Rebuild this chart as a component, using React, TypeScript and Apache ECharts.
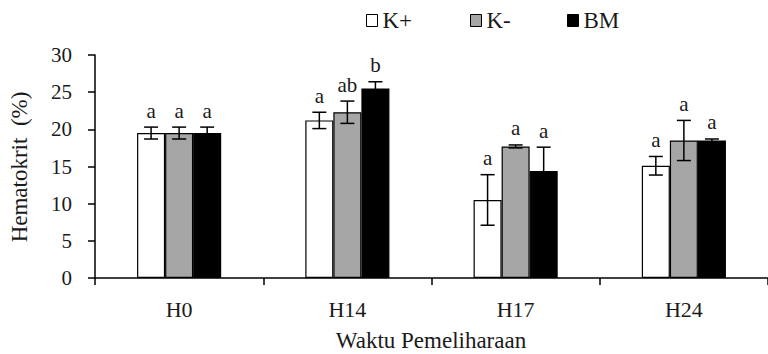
import React, { useEffect, useRef } from "react";
import * as echarts from "echarts";

const categories = ["H0", "H14", "H17", "H24"];
const seriesNames = ["K+", "K-", "BM"];
const kPlus = [19.5, 21.2, 10.5, 15.1];
const kMinus = [19.5, 22.3, 17.7, 18.5];
const bm = [19.5, 25.5, 14.4, 18.5];
const kPlusErr = [0.8, 1.1, 3.4, 1.25];
const kMinusErr = [0.8, 1.5, 0.2, 2.7];
const bmErr = [0.8, 0.9, 3.2, 0.2];
const kPlusLetters = ["a", "a", "a", "a"];
const kMinusLetters = ["a", "ab", "a", "a"];
const bmLetters = ["a", "b", "a", "a"];
const yTicks = { min: 0, max: 30, interval: 5 };

const FONT = "Liberation Serif";
const TEXT = "#1a1a1a";
const fills = ["#ffffff", "#a6a6a6", "#000000"];

export default function App() {
  const ref = useRef<HTMLDivElement>(null);
  useEffect(() => {
    if (!ref.current) return;
    const chart = echarts.init(ref.current, null, { renderer: "svg" });
    const values = [kPlus, kMinus, bm];
    const errs = [kPlusErr, kMinusErr, bmErr];
    const letters = [kPlusLetters, kMinusLetters, bmLetters];

    const barSeries = values.map((vals, s) => ({
      name: seriesNames[s],
      type: "bar",
      data: vals,
      barGap: "0%",
      barCategoryGap: "50%",
      itemStyle: { color: fills[s], borderColor: "#000", borderWidth: 1.2 },
      z: 2,
    }));

    const errSeries = values.map((vals, s) => ({
      name: "err" + s,
      type: "custom",
      z: 5,
      data: vals.map((v, i) => [i, v, errs[s][i]]),
      encode: { x: 0, y: 1 },
      renderItem: (params: any, api: any) => {
        const i = api.value(0);
        const v = api.value(1);
        const e = api.value(2);
        const band = api.size([1, 0])[0];
        const barW = (band * 0.5) / 3;
        const off = (s - 1) * barW;
        const top = api.coord([i, v + e]);
        const bot = api.coord([i, v - e]);
        const x = top[0] + off;
        const cap = 7;
        const lineStyle = { stroke: "#000", lineWidth: 1.5 };
        return {
          type: "group",
          children: [
            { type: "line", shape: { x1: x, y1: top[1], x2: x, y2: bot[1] }, style: lineStyle },
            { type: "line", shape: { x1: x - cap, y1: top[1], x2: x + cap, y2: top[1] }, style: lineStyle },
            { type: "line", shape: { x1: x - cap, y1: bot[1], x2: x + cap, y2: bot[1] }, style: lineStyle },
            {
              type: "text",
              style: {
                text: letters[s][params.dataIndex],
                x: x,
                y: top[1] - 6,
                textAlign: "center",
                textVerticalAlign: "bottom",
                fontSize: 21,
                fontFamily: FONT,
                fill: TEXT,
              },
            },
          ],
        };
      },
    }));

    const legendLefts = [366, 470, 567];
    const legends = seriesNames.map((n, s) => ({
      data: [{ name: n, itemStyle: { color: fills[s], borderColor: "#000", borderWidth: 1 } }],
      left: legendLefts[s],
      top: 9,
      padding: 0,
      icon: "rect",
      itemWidth: 11,
      itemHeight: 12,
      itemGap: 0,
      textStyle: { fontSize: 23, fontFamily: FONT, color: TEXT },
      selectedMode: false,
    }));

    chart.setOption({
      animation: false,
      textStyle: { fontFamily: FONT },
      legend: legends,
      grid: { left: 95, right: -11, top: 55, bottom: 76, containLabel: false },
      xAxis: {
        type: "category",
        data: categories,
        axisLine: { lineStyle: { color: "#000", width: 1.5 } },
        axisTick: { show: true, length: 7, lineStyle: { color: "#000", width: 1.5 } },
        axisLabel: { fontSize: 22, fontFamily: FONT, color: TEXT, margin: 20 },
      },
      yAxis: {
        type: "value",
        min: yTicks.min,
        max: yTicks.max,
        interval: yTicks.interval,
        splitLine: { show: false },
        axisLine: { show: true, lineStyle: { color: "#000", width: 1.5 } },
        axisTick: { show: true, length: 7, lineStyle: { color: "#000", width: 1.5 } },
        axisLabel: { fontSize: 21, fontFamily: FONT, color: TEXT, margin: 23 },
      },
      graphic: [
        {
          type: "text",
          x: 19,
          y: 167,
          rotation: Math.PI / 2,
          style: {
            text: "Hematokrit  (%)",
            textAlign: "center",
            textVerticalAlign: "middle",
            fontSize: 23,
            fontFamily: FONT,
            fill: TEXT,
          },
        },
        {
          type: "text",
          x: 431,
          y: 340,
          style: {
            text: "Waktu Pemeliharaan",
            textAlign: "center",
            textVerticalAlign: "middle",
            fontSize: 23,
            fontFamily: FONT,
            fill: TEXT,
          },
        },
      ],
      series: [...barSeries, ...errSeries],
    });
    return () => chart.dispose();
  }, []);
  return (
    <div
      ref={ref}
      style={{ position: "fixed", left: 0, top: 0, width: 768, height: 354, background: "#fff" }}
    />
  );
}
